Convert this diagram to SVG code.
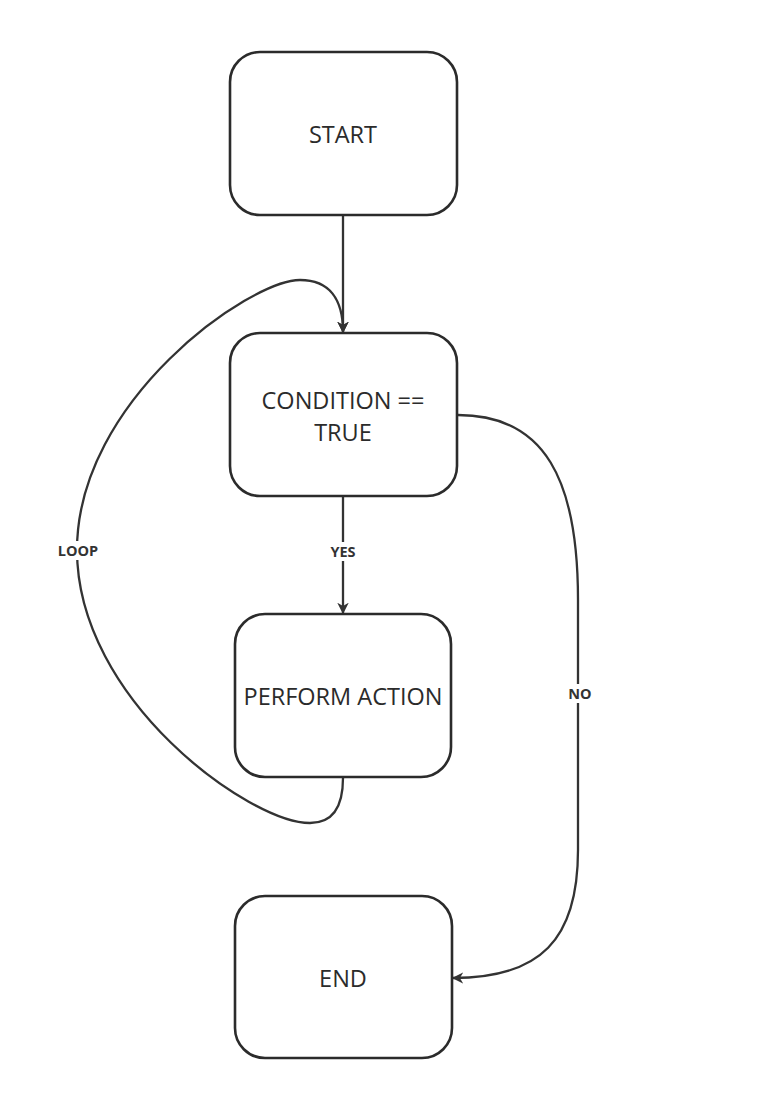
<svg xmlns="http://www.w3.org/2000/svg" width="768" height="1100" viewBox="0 0 768 1100">
<style>
.box{fill:#fff;stroke:#2b2b2b;stroke-width:2.6}
.t{font-family:"Open Sans","Noto Sans",sans-serif;font-size:23.5px;fill:#2b2b2b;text-anchor:middle;dominant-baseline:central}
.edge{fill:none;stroke:#333;stroke-width:2.3}
.lbl{font-family:"Open Sans","Noto Sans",sans-serif;font-size:14.5px;font-weight:bold;fill:#333;text-anchor:middle;dominant-baseline:central}
.lbg{fill:#fff}
</style>
<defs>
<marker id="ah" viewBox="0 0 10 10" refX="9" refY="5" markerWidth="5" markerHeight="5" orient="auto-start-reverse" markerUnits="strokeWidth">
<path d="M0,0 L10,5 L0,10 L3,5 Z" fill="#333"/>
</marker>
</defs>
<rect width="768" height="1100" fill="#fff"/>
<g id="connectors">
<path class="edge" d="M343,216 L343,332" marker-end="url(#ah)"/>
<path class="edge" d="M343,497 L343,613" marker-end="url(#ah)"/>
<path class="edge" d="M343,778 C343,800 337,823 310,823 C250,823 77,700 77,550 C77,400 250,280 300,280 C330,280 343,300 343,332" marker-end="url(#ah)"/>
<path class="edge" d="M458,415 C545,415 578,480 578,600 L578,850 C578,940 540,978 453,978" marker-end="url(#ah)"/>
<rect class="lbg" x="326" y="542" width="34" height="19"/>
<text class="lbl" x="343" y="551">YES</text>
<rect class="lbg" x="54" y="541" width="48" height="19"/>
<text class="lbl" x="78" y="550">LOOP</text>
<rect class="lbg" x="565" y="684" width="30" height="19"/>
<text class="lbl" x="580" y="693">NO</text>
</g>
<g id="start">
<rect class="box" x="230" y="52" width="227" height="163" rx="30"/>
<text class="t" x="343" y="134">START</text>
</g>
<g id="condition">
<rect class="box" x="230" y="333" width="227" height="163" rx="30"/>
<text class="t" x="343" y="400">CONDITION ==</text>
<text class="t" x="343" y="432">TRUE</text>
</g>
<g id="perform">
<rect class="box" x="235" y="614" width="216" height="163" rx="30"/>
<text class="t" x="343" y="696">PERFORM ACTION</text>
</g>
<g id="end">
<rect class="box" x="235" y="896" width="217" height="162" rx="30"/>
<text class="t" x="343" y="978">END</text>
</g>
</svg>
